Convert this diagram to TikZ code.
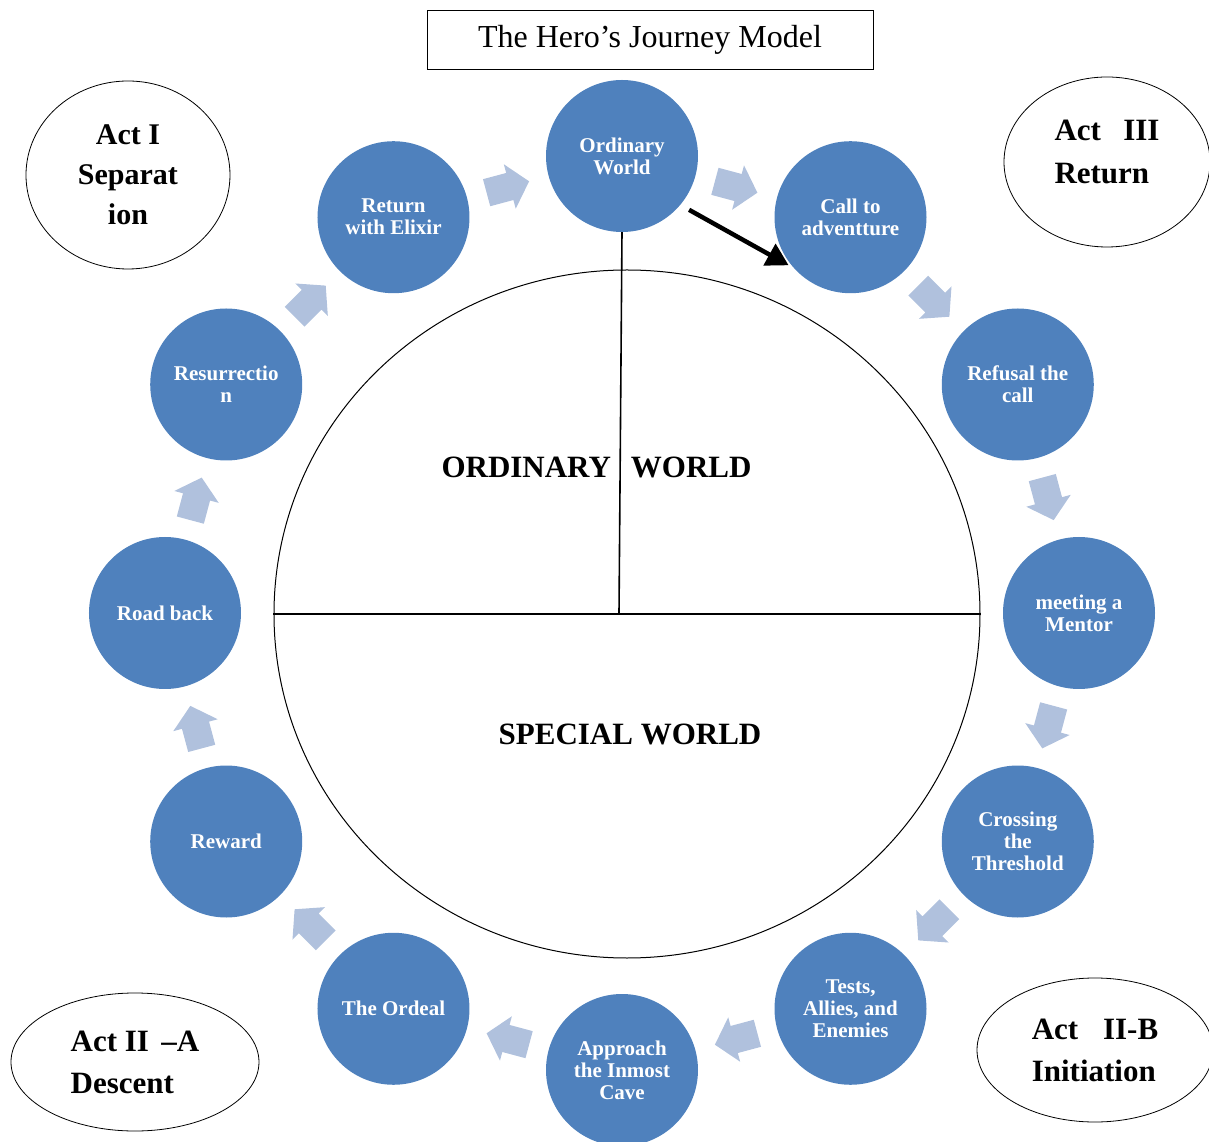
\documentclass[tikz,border=0pt]{standalone}
\usepackage{fontspec}
\setmainfont{Liberation Serif}
\usetikzlibrary{
  shapes.geometric,
  arrows.meta
}
\definecolor{stageblue}{RGB}{79,129,189}
\definecolor{flowblue}{RGB}{176,193,221}

\begin{document}
\begin{tikzpicture}[x=1pt,y=1pt,
  stage/.style={circle, fill=stageblue, minimum size=152pt, inner sep=0pt, align=center,
    text=white, font=\fontsize{21}{22}\selectfont\bfseries},
  actlabel/.style={ellipse, draw, line width=0.8pt, inner sep=0pt, align=left,
    font=\fontsize{31}{42}\selectfont\bfseries},
  worldlabel/.style={font=\fontsize{31}{36}\selectfont\bfseries},
  divider/.style={line width=1.6pt},
  flow/.pic={\fill[flowblue] (-22,-14) -- (2,-14) -- (2,-23) -- (22,0) -- (2,23) -- (2,14) -- (-22,14) -- cycle;}]
  \def\R{457};
  \def\Rf{441};
  \useasboundingbox (-622,-529) rectangle (587,613);

        \node[draw, line width=0.8pt, minimum width=446pt, minimum height=59pt,
          font=\fontsize{32}{36}\selectfont] (title) at (28,573.5) {The Hero’s Journey Model};

        \node[stage] (ordinary) at (90:\R) {Ordinary\\World};
        \node[stage] (call) at (60:\R) {Call to\\adventture};
        \node[stage] (refusal) at (30:\R) {Refusal the\\call};
        \node[stage] (mentor) at (0:\R) {meeting a\\Mentor};
        \node[stage] (crossing) at (-30:\R) {Crossing\\the\\Threshold};
        \node[stage] (tests) at (-60:\R) {Tests,\\Allies, and\\Enemies};
        \node[stage] (approach) at (-90:\R) {Approach\\the Inmost\\Cave};
        \node[stage] (ordeal) at (-120:\R) {The Ordeal};
        \node[stage] (reward) at (-150:\R) {Reward};
        \node[stage] (roadback) at (180:\R) {Road back};
        \node[stage] (resurrection) at (150:\R) {Resurrectio\\n};
        \node[stage] (elixir) at (120:\R) {Return\\with Elixir};

	\foreach \a in {105,75,...,-225}
	  \pic[rotate=\a-90] at (\a:\Rf) {flow};

        \node[ellipse, draw, line width=1pt, minimum width=706pt, minimum height=688pt] (world) at (5,-1) {};
        \coordinate (split) at (-3,-1);
	\draw[divider] (world.west) -- (world.east);
	\draw[divider] (ordinary.south) -- (split);

        \node[worldlabel] (ordlabel) at (-25.5,146) {ORDINARY\hspace{20pt}WORLD};
        \node[worldlabel] (speclabel) at (8,-121) {SPECIAL WORLD};

	\draw[line width=4.5pt, -{Triangle[length=22pt,width=24pt]}, shorten <=10pt, shorten >=6pt]
	  (ordinary.-40) -- (call.222);

        \node[actlabel, align=center, minimum width=204pt, minimum height=188pt,
          font=\fontsize{30}{40}\selectfont\bfseries] (actone) at (-494,438) {Act I\\Separat\\ion};
        \node[actlabel, minimum width=206pt, minimum height=170pt] (actthree) at (485,451) {};
        \node[font=\fontsize{31}{43}\selectfont\bfseries, align=left] (actthreetext) at (485,461) {Act\hspace{0.72em}III\\Return};
        \node[actlabel, minimum width=248pt, minimum height=138pt] (acttwoa) at (-487,-449) {Act II\hspace{0.4em}–A\\Descent};
        \node[actlabel, minimum width=236pt, minimum height=144pt] (acttwob) at (473,-437) {Act\hspace{0.8em}II-B\\Initiation};
\end{tikzpicture}
\end{document}
